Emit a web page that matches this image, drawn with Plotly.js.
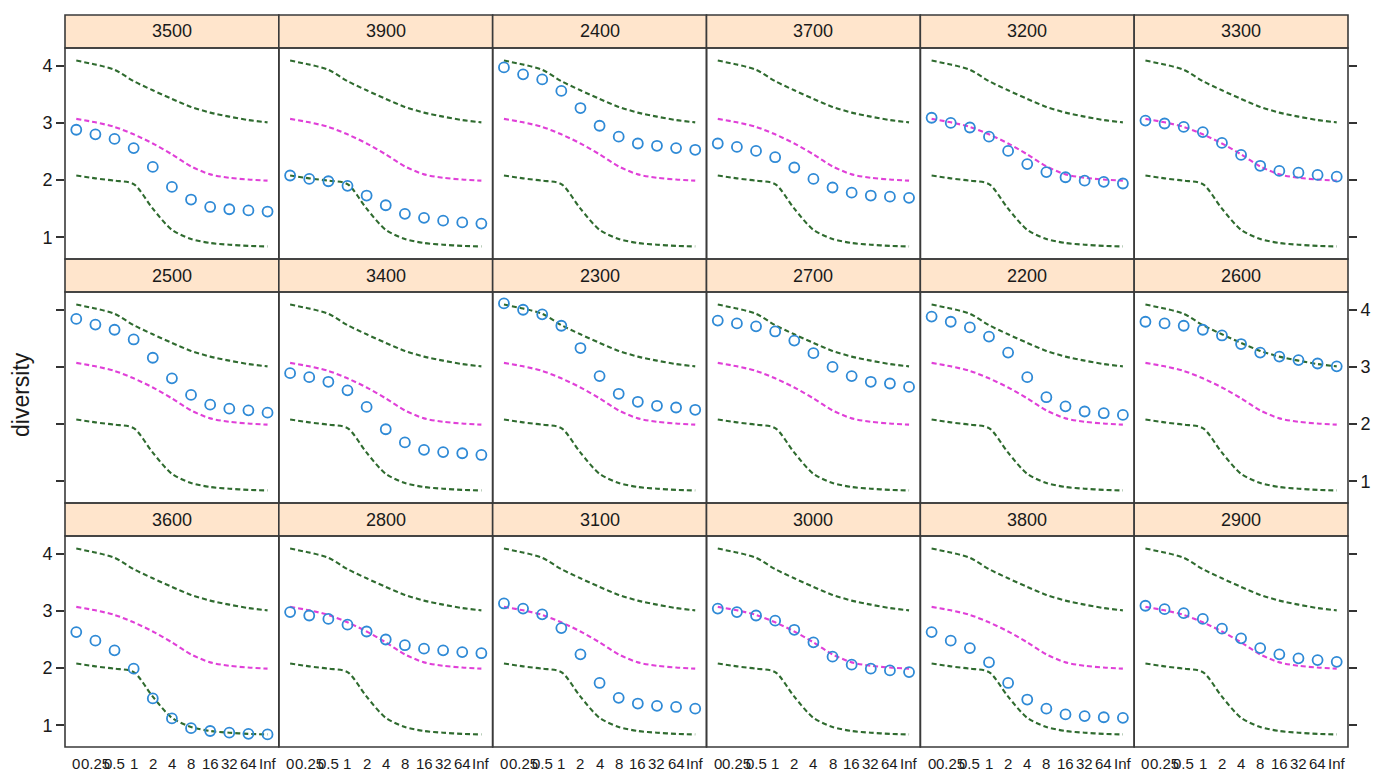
<!DOCTYPE html>
<html>
<head>
<meta charset="utf-8">
<script src="https://cdn.plot.ly/plotly-3.0.1.min.js"></script>
<style>
html,body{margin:0;padding:0;background:#fff;}
#chart{width:1379px;height:778px;}
</style>
</head>
<body>
<div id="chart"></div>
<script>
// ---- data ----
const xLabels = ['0','0.25','0.5','1','2','4','8','16','32','64','Inf'];
const upperRef = [4.09, 4.02, 3.93, 3.73, 3.57, 3.42, 3.28, 3.18, 3.11, 3.05, 3.01];
const middleRef = [3.07, 3.01, 2.93, 2.80, 2.64, 2.45, 2.24, 2.10, 2.04, 2.01, 1.99];
const lowerRef = [2.08, 2.03, 1.99, 1.93, 1.50, 1.13, 0.97, 0.90, 0.87, 0.85, 0.84];

const panelNames = ['3500','3900','2400','3700','3200','3300',
                    '2500','3400','2300','2700','2200','2600',
                    '3600','2800','3100','3000','3800','2900'];

const d3500 = [2.88, 2.80, 2.72, 2.56, 2.23, 1.88, 1.66, 1.53, 1.49, 1.47, 1.45];
const d3900 = [2.08, 2.02, 1.98, 1.90, 1.73, 1.56, 1.41, 1.34, 1.29, 1.26, 1.24];
const d2400 = [3.97, 3.85, 3.76, 3.56, 3.26, 2.95, 2.76, 2.64, 2.60, 2.56, 2.53];
const d3700 = [2.64, 2.58, 2.51, 2.40, 2.22, 2.02, 1.87, 1.78, 1.73, 1.71, 1.69];
const d3200 = [3.09, 3.00, 2.92, 2.76, 2.51, 2.28, 2.14, 2.05, 1.99, 1.97, 1.94];
const d3300 = [3.04, 2.99, 2.93, 2.84, 2.65, 2.44, 2.25, 2.16, 2.13, 2.09, 2.06];
const d2500 = [3.84, 3.74, 3.65, 3.48, 3.16, 2.80, 2.51, 2.34, 2.27, 2.24, 2.20];
const d3400 = [2.89, 2.82, 2.74, 2.59, 2.30, 1.91, 1.68, 1.55, 1.51, 1.49, 1.46];
const d2300 = [4.11, 4.00, 3.92, 3.72, 3.33, 2.84, 2.53, 2.39, 2.32, 2.29, 2.25];
const d2700 = [3.81, 3.76, 3.71, 3.62, 3.46, 3.24, 3.00, 2.84, 2.74, 2.71, 2.65];
const d2200 = [3.88, 3.79, 3.69, 3.53, 3.25, 2.82, 2.47, 2.31, 2.22, 2.19, 2.16];
const d2600 = [3.79, 3.76, 3.72, 3.65, 3.55, 3.40, 3.25, 3.18, 3.12, 3.06, 3.01];
const d3600 = [2.63, 2.48, 2.31, 1.99, 1.47, 1.12, 0.95, 0.90, 0.87, 0.85, 0.84];
const d2800 = [2.98, 2.92, 2.86, 2.76, 2.64, 2.50, 2.40, 2.34, 2.31, 2.28, 2.26];
const d3100 = [3.13, 3.04, 2.94, 2.70, 2.24, 1.74, 1.48, 1.38, 1.34, 1.32, 1.29];
const d3000 = [3.04, 2.98, 2.92, 2.83, 2.67, 2.45, 2.20, 2.06, 1.99, 1.96, 1.93];
const d3800 = [2.63, 2.48, 2.35, 2.10, 1.74, 1.45, 1.29, 1.19, 1.16, 1.14, 1.13];
const d2900 = [3.09, 3.03, 2.96, 2.86, 2.69, 2.52, 2.35, 2.24, 2.17, 2.14, 2.11];

const panelData = [d3500, d3900, d2400, d3700, d3200, d3300,
                   d2500, d3400, d2300, d2700, d2200, d2600,
                   d3600, d2800, d3100, d3000, d3800, d2900];

const yTicks = [1, 2, 3, 4];

// ---- layout geometry ----
const W = 1379, H = 778;
const nCols = 6, nRows = 3;
const leftPx = 65, rightPx = 1348;
const colW = (rightPx - leftPx) / nCols;
const topPx = 15, stripH = 33, panelH = 211;
const rowH = stripH + panelH;

const fontFam = 'Liberation Sans, Arial, sans-serif';
const ink = '#1a1a1a';
const greenCol = '#2f6b2f';
const magCol = '#e040d8';
const ptCol = '#2f8ad6';

const traces = [];
const layout = {
  width: W, height: H,
  margin: {l: 0, r: 0, t: 0, b: 0},
  paper_bgcolor: '#ffffff', plot_bgcolor: '#ffffff',
  showlegend: false,
  shapes: [], annotations: []
};

function px2x(p) { return p / W; }
function px2y(p) { return 1 - p / H; }

for (let i = 0; i < panelNames.length; i++) {
  const r = Math.floor(i / nCols), c = i % nCols;
  const n = i + 1;
  const xa = n === 1 ? 'x' : 'x' + n;
  const ya = n === 1 ? 'y' : 'y' + n;
  const x0 = leftPx + c * colW, x1 = x0 + colW;
  const sTop = topPx + r * rowH, pTop = sTop + stripH, pBot = pTop + panelH;

  const lineStyle = (col) => ({color: col, width: 2.1, dash: '5px,3px', shape: 'spline', smoothing: 0.8});
  traces.push({x: xLabels, y: upperRef, xaxis: xa, yaxis: ya, mode: 'lines', line: lineStyle(greenCol), hoverinfo: 'skip'});
  traces.push({x: xLabels, y: middleRef, xaxis: xa, yaxis: ya, mode: 'lines', line: lineStyle(magCol), hoverinfo: 'skip'});
  traces.push({x: xLabels, y: lowerRef, xaxis: xa, yaxis: ya, mode: 'lines', line: lineStyle(greenCol), hoverinfo: 'skip'});
  traces.push({x: xLabels, y: panelData[i], xaxis: xa, yaxis: ya, mode: 'markers',
    marker: {symbol: 'circle-open', size: 10, color: ptCol, line: {width: 1.8, color: ptCol}}});

  const xKey = n === 1 ? 'xaxis' : 'xaxis' + n;
  const yKey = n === 1 ? 'yaxis' : 'yaxis' + n;
  const bottomRow = (r === nRows - 1);
  layout[xKey] = {
    domain: [px2x(x0), px2x(x1)],
    anchor: ya, type: 'category', range: [-0.59, 10.59],
    showgrid: false, zeroline: false, showline: false,
    ticks: '', showticklabels: false, fixedrange: true
  };
  let side = 'left', showTicks = false, showLabels = false;
  if (c === 0) { side = 'left'; showTicks = true; showLabels = (r !== 1); }
  if (c === nCols - 1) { side = 'right'; showTicks = true; showLabels = (r === 1); }
  layout[yKey] = {
    domain: [px2y(pBot), px2y(pTop)],
    anchor: xa, side: side, range: [0.62, 4.31],
    showgrid: false, zeroline: false, showline: false,
    tickvals: yTicks, ticktext: yTicks.map(String),
    ticks: showTicks ? 'outside' : '', ticklen: 8, tickwidth: 1.6, tickcolor: '#333333',
    showticklabels: showLabels,
    tickfont: {family: fontFam, size: 18, color: ink},
    fixedrange: true
  };

  // x tick labels (bottom row) placed at the category positions of the axis
  if (bottomRow) {
    xLabels.forEach((lab, j) => {
      layout.annotations.push({xref: xa, yref: 'paper', x: j, y: px2y(763),
        text: lab, showarrow: false, xanchor: 'center', yanchor: 'middle',
        font: {family: fontFam, size: 15, color: ink}});
    });
  }

  // strip
  layout.shapes.push({type: 'rect', xref: 'paper', yref: 'paper',
    x0: px2x(x0), x1: px2x(x1), y0: px2y(pTop), y1: px2y(sTop),
    fillcolor: '#ffe5cc', line: {color: '#3a3a3a', width: 1.6}, layer: 'below'});
  // panel border
  layout.shapes.push({type: 'rect', xref: 'paper', yref: 'paper',
    x0: px2x(x0), x1: px2x(x1), y0: px2y(pBot), y1: px2y(pTop),
    fillcolor: 'rgba(0,0,0,0)', line: {color: '#3a3a3a', width: 1.6}, layer: 'above'});
  layout.annotations.push({xref: 'paper', yref: 'paper',
    x: px2x((x0 + x1) / 2), y: px2y(sTop + stripH / 2),
    text: panelNames[i], showarrow: false, xanchor: 'center', yanchor: 'middle',
    font: {family: fontFam, size: 18, color: ink}});
}

layout.annotations.push({xref: 'paper', yref: 'paper', x: px2x(21), y: px2y(395),
  text: 'diversity', showarrow: false, textangle: -90, xanchor: 'center', yanchor: 'middle',
  font: {family: fontFam, size: 23, color: ink}});

Plotly.newPlot('chart', traces, layout, {displayModeBar: false, staticPlot: true});
</script>
</body>
</html>
